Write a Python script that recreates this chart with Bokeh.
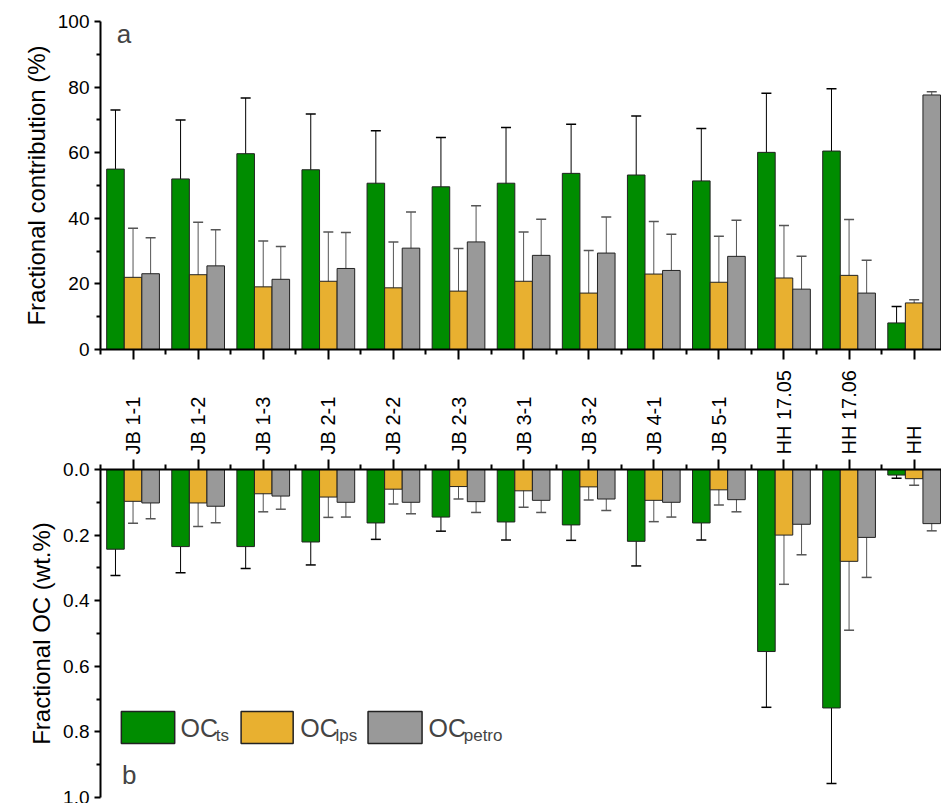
from bokeh.plotting import figure
from bokeh.layouts import column
from bokeh.models import ColumnDataSource, Whisker, TeeHead, FixedTicker, Range1d, Label
from bokeh.embed import file_html
from bokeh.resources import INLINE

samples = ["JB 1-1", "JB 1-2", "JB 1-3", "JB 2-1", "JB 2-2", "JB 2-3", "JB 3-1",
           "JB 3-2", "JB 4-1", "JB 5-1", "HH 17.05", "HH 17.06", "HH"]

# panel a: fractional contribution (%)
ts_pct = [55.0, 52.0, 59.7, 54.8, 50.7, 49.6, 50.7, 53.7, 53.2, 51.4, 60.1, 60.5, 8.1]
ts_pct_err = [18, 18, 17, 17, 16, 15, 17, 15, 18, 16, 18, 19, 5]
lps_pct = [22.0, 22.8, 19.1, 20.8, 18.8, 17.8, 20.8, 17.2, 23.0, 20.5, 21.8, 22.6, 14.2]
lps_pct_err = [15, 16, 14, 15, 14, 13, 15, 13, 16, 14, 16, 17, 1]
petro_pct = [23.1, 25.5, 21.4, 24.7, 30.9, 32.8, 28.7, 29.4, 24.1, 28.4, 18.4, 17.2, 77.6]
petro_pct_err = [11, 11, 10, 11, 11, 11, 11, 11, 11, 11, 10, 10, 1]

# panel b: fractional OC (wt.%)
ts_wt = [0.243, 0.235, 0.235, 0.221, 0.163, 0.145, 0.160, 0.169, 0.219, 0.163, 0.555, 0.727, 0.017]
ts_wt_err = [0.08, 0.08, 0.067, 0.07, 0.05, 0.043, 0.055, 0.047, 0.075, 0.052, 0.17, 0.23, 0.01]
lps_wt = [0.097, 0.102, 0.074, 0.084, 0.060, 0.052, 0.065, 0.053, 0.094, 0.062, 0.200, 0.280, 0.028]
lps_wt_err = [0.067, 0.072, 0.055, 0.062, 0.045, 0.038, 0.05, 0.04, 0.065, 0.046, 0.15, 0.21, 0.02]
petro_wt = [0.102, 0.112, 0.081, 0.100, 0.100, 0.098, 0.094, 0.090, 0.100, 0.092, 0.167, 0.207, 0.165]
petro_wt_err = [0.048, 0.05, 0.04, 0.045, 0.035, 0.033, 0.037, 0.035, 0.045, 0.037, 0.093, 0.122, 0.022]

colors = ["#008c00", "#e8b030", "#999999"]
offsets = [-0.27, 0.0, 0.27]
bw = 0.27
xs = list(range(len(samples)))
FONT = "Liberation Sans"


def add_bars(p, series):
    for (vals, errs), col, off in zip(series, colors, offsets):
        src = ColumnDataSource(dict(
            x=[i + off for i in xs], top=vals,
            lo=[v - e for v, e in zip(vals, errs)],
            hi=[v + e for v, e in zip(vals, errs)]))
        p.vbar(x="x", top="top", bottom=0, width=bw, source=src,
               fill_color=col, line_color="#222222", line_width=1)
        ec = "black" if col == colors[0] else "#555555"
        w = Whisker(base="x", lower="lo", upper="hi", source=src, line_color=ec,
                    line_width=1,
                    upper_head=TeeHead(size=10, line_color=ec, line_width=1.5),
                    lower_head=TeeHead(size=10, line_color=ec, line_width=1.5))
        p.add_layout(w)


def style(p):
    p.xgrid.visible = False
    p.ygrid.visible = False
    p.outline_line_color = None
    for ax in p.axis:
        ax.axis_line_width = 2
        ax.major_tick_line_width = 2
        ax.minor_tick_line_width = 2
        ax.major_tick_in = 0
        ax.minor_tick_in = 0
        ax.major_label_text_font = FONT
        ax.major_label_text_font_size = "19px"
        ax.major_label_text_color = "black"
        ax.axis_label_text_font = FONT
        ax.axis_label_text_font_size = "24px"
        ax.axis_label_text_font_style = "normal"
        ax.axis_label_text_color = "black"
    p.xaxis.major_tick_out = 10
    p.xaxis.minor_tick_out = 5
    p.yaxis.minor_tick_out = 4


x_rng = Range1d(-0.5, 12.42)
x_minor = [i - 0.5 for i in xs] + [12.5]

# top panel
pa = figure(width=941, height=360, x_range=x_rng, y_range=Range1d(0, 100),
            output_backend="svg", toolbar_location=None, tools=[],
            min_border_top=21, min_border_bottom=11, min_border_left=100,
            min_border_right=0)
add_bars(pa, [(ts_pct, ts_pct_err), (lps_pct, lps_pct_err), (petro_pct, petro_pct_err)])
pa.yaxis.axis_label = "Fractional contribution (%)"
pa.yaxis.ticker = FixedTicker(ticks=[0, 20, 40, 60, 80, 100],
                              minor_ticks=[10, 30, 50, 70, 90])
pa.xaxis.ticker = FixedTicker(ticks=xs, minor_ticks=x_minor)
pa.xaxis.major_label_overrides = {i: "" for i in xs}
style(pa)
pa.add_layout(Label(x=-0.14, y=96.3, text="a", text_font=FONT,
                    text_font_size="26px", text_baseline="middle", text_align="center"))

# bottom panel
pb = figure(width=941, height=443, x_range=x_rng, y_range=Range1d(1.0, 0.0),
            x_axis_location="above",
            output_backend="svg", toolbar_location=None, tools=[],
            min_border_top=109, min_border_bottom=6, min_border_left=100,
            min_border_right=0)
add_bars(pb, [(ts_wt, ts_wt_err), (lps_wt, lps_wt_err), (petro_wt, petro_wt_err)])
pb.yaxis.axis_label = "Fractional OC (wt.%)"
pb.yaxis.ticker = FixedTicker(ticks=[0, 0.2, 0.4, 0.6, 0.8, 1.0],
                              minor_ticks=[0.1, 0.3, 0.5, 0.7, 0.9])
pb.yaxis.major_label_overrides = {0: "0.0", 0.2: "0.2", 0.4: "0.4", 0.6: "0.6",
                                  0.8: "0.8", 1: "1.0"}
pb.xaxis.ticker = FixedTicker(ticks=xs, minor_ticks=x_minor)
pb.xaxis.major_label_overrides = {i: s for i, s in enumerate(samples)}
pb.xaxis.major_label_orientation = "vertical"
style(pb)
pb.xaxis.major_label_text_font_size = "20px"
pb.add_layout(Label(x=-0.06, y=0.93, text="b", text_font=FONT,
                    text_font_size="26px", text_baseline="middle", text_align="center"))

# legend drawn by hand so that the subscripts can be kept
leg_left = [-0.18, 1.66, 3.61]
leg_right = [0.64, 2.46, 4.44]
leg_sub = ["ts", "lps", "petro"]
leg_oc_x = [0.73, 2.57, 4.54]
leg_sub_x = [1.27, 3.11, 5.08]
pb.quad(left=leg_left, right=leg_right, top=[0.738] * 3, bottom=[0.835] * 3,
        fill_color=colors, line_color="#222222", line_width=1.5)
for ox, sx, sub in zip(leg_oc_x, leg_sub_x, leg_sub):
    pb.add_layout(Label(x=ox, y=0.787, text="OC", text_font=FONT,
                        text_font_size="25px", text_baseline="middle"))
    pb.add_layout(Label(x=sx, y=0.81, text=sub, text_font=FONT,
                        text_font_size="17px", text_baseline="middle"))

p = column(pa, pb, spacing=0)
open("out.html", "w").write(file_html(p, INLINE))
